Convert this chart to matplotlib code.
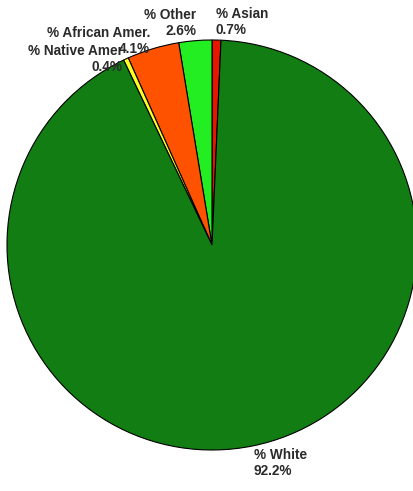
import matplotlib
matplotlib.use("Agg")
import matplotlib.pyplot as plt

# Race breakdown (percent)
categories = ["% Asian", "% Other", "% African Amer.", "% Native Amer.", "% White"]
values = [0.7, 2.6, 4.1, 0.4, 92.2]
colors = ["#e81500", "#22ee22", "#ff5200", "#ffff20", "#127d12"]

W, H = 413, 491
fig = plt.figure(figsize=(W / 100, H / 100), dpi=100)
fig.patch.set_facecolor("white")

# pie centre ~ (212, 245) px, radius ~ 205 px
cx, cy, r = 212, 245, 205
ax = fig.add_axes([(cx - r) / W, (H - cy - r) / H, 2 * r / W, 2 * r / H])
start = 90 - values[0] * 3.6
wedges, _ = ax.pie(values, colors=colors, startangle=start, counterclock=True,
                   wedgeprops=dict(edgecolor="black", linewidth=0.8))
for w in wedges:
    w.set_zorder(3)
ax.set_xlim(-1.0, 1.0)
ax.set_ylim(-1.0, 1.0)
ax.set_aspect("equal")
ax.axis("off")

font = dict(fontfamily="Liberation Sans", fontweight="bold", fontsize=9.8,
            color="#2a2a2a", linespacing=1.2, zorder=1)


def lab(x, y, s, ha):
    fig.text(x / W, 1 - y / H, s, ha=ha, va="center", multialignment=ha, **font)


# y = midpoint between the two lines (px from top)
lab(216, 22, f"{categories[0]}\n{values[0]}%", "left")
lab(196, 23, f"{categories[1]}\n{values[1]}%", "right")
lab(150, 41, f"{categories[2]}\n{values[2]}%", "right")
lab(123, 59, f"% Native Amer\n{values[3]}%", "right")
lab(254, 463, f"{categories[4]}\n{values[4]}%", "left")

fig.savefig("out.png", dpi=100)
